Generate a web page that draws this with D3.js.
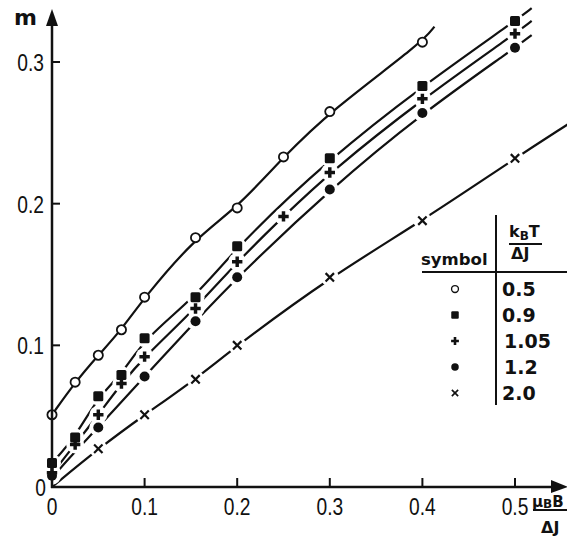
<!DOCTYPE html>
<html>
<head>
<meta charset="utf-8">
<script src="https://cdn.jsdelivr.net/npm/d3@7"></script>
<style>
  html, body { margin: 0; padding: 0; background: #fff; overflow: hidden; }
  .tick-label { font-family: "Liberation Sans", "DejaVu Sans", sans-serif; font-size: 24px; fill: #111; }
  .leg { font-family: "DejaVu Sans", sans-serif; font-weight: bold; fill: #111; }
</style>
</head>
<body>
<div id="chart"></div>
<script>
let w = 567
let h = 536

// k_B T / ΔJ values, one series per value
let kT = ["0.5", "0.9", "1.05", "1.2", "2.0"]
let symbolType = ["openCircle", "square", "plus", "dot", "cross"]

// measured points (x = μB·B/ΔJ, m)
let xOpen = [0, 0.025, 0.05, 0.075, 0.1, 0.155, 0.2, 0.25, 0.3, 0.4]
let mOpen = [0.051, 0.074, 0.093, 0.111, 0.134, 0.176, 0.197, 0.233, 0.265, 0.314]
let xSquare = [0, 0.025, 0.05, 0.075, 0.1, 0.155, 0.2, 0.3, 0.4, 0.5]
let mSquare = [0.017, 0.035, 0.064, 0.079, 0.105, 0.134, 0.170, 0.232, 0.283, 0.329]
let xPlus = [0, 0.025, 0.05, 0.075, 0.1, 0.155, 0.2, 0.25, 0.3, 0.4, 0.5]
let mPlus = [0.010, 0.030, 0.051, 0.073, 0.092, 0.126, 0.159, 0.191, 0.222, 0.274, 0.320]
let xDot = [0, 0.05, 0.1, 0.155, 0.2, 0.3, 0.4, 0.5]
let mDot = [0.008, 0.042, 0.078, 0.117, 0.148, 0.210, 0.264, 0.310]
let xCross = [0.05, 0.1, 0.155, 0.2, 0.3, 0.4, 0.5]
let mCross = [0.027, 0.051, 0.076, 0.100, 0.148, 0.188, 0.232]

// where the drawn curves begin / end beyond the measured points
let curveStart = [null, null, [0, 0.004], [0, 0.002], [0, 0]]
let curveEnd = [[0.413, 0.325], [0.518, 0.338], [0.518, 0.329], [0.518, 0.319], [0.557, 0.256]]

let xTicks = [0, 0.1, 0.2, 0.3, 0.4, 0.5]
let yTicks = [0, 0.1, 0.2, 0.3]

let series = [[xOpen, mOpen], [xSquare, mSquare], [xPlus, mPlus], [xDot, mDot], [xCross, mCross]]
	.map(([xs, ms], i) => ({
		kT: kT[i],
		type: symbolType[i],
		points: xs.map((v, j) => ({ x: v, m: ms[j] }))
	}))

let svg = d3.select("#chart")
	.append("svg")
	.attr("width", w)
	.attr("height", h)

let x = d3.scaleLinear().domain([0, 0.5]).range([52, 515])
let y = d3.scaleLinear().domain([0, 0.3]).range([487, 62])

// smoothed curves, like the hand-fitted lines of the original
let line = d3.line()
	.x(d => x(d[0]))
	.y(d => y(d[1]))
	.curve(d3.curveBasis)

// marker shapes
let drawMarker = (g, type, s) => {
	if (type == "openCircle") {
		g.append("circle").attr("r", 4.6 * s).attr("fill", "#fff").attr("stroke", "#111").attr("stroke-width", 1.8 * s)
	} else if (type == "square") {
		g.append("rect").attr("x", -5 * s).attr("y", -5 * s).attr("width", 10 * s).attr("height", 10 * s)
			.attr("rx", 1.5 * s).attr("fill", "#111")
	} else if (type == "plus") {
		g.append("path").attr("d", d3.symbol(d3.symbolCross, 60 * s * s)()).attr("fill", "#111")
	} else if (type == "dot") {
		g.append("circle").attr("r", 5 * s).attr("fill", "#111")
	} else {
		let r = 4.2 * s
		g.append("path").attr("d", `M${-r},${-r}L${r},${r}M${-r},${r}L${r},${-r}`)
			.attr("stroke", "#111").attr("stroke-width", 2.2 * s).attr("fill", "none")
	}
}

// curves
series.forEach((s, i) => {
	let knots = s.points.map(p => [p.x, p.m])
	if (curveStart[i]) knots.unshift(curveStart[i])
	knots.push(curveEnd[i])
	svg.append("path")
		.attr("d", line(knots))
		.attr("fill", "none")
		.attr("stroke", "#111")
		.attr("stroke-width", 2.2)
})

// white gaps round the filled markers
series.forEach(s => {
	if (s.type == "openCircle") return
	svg.append("g").selectAll("circle")
		.data(s.points)
		.join("circle")
		.attr("cx", d => x(d.x))
		.attr("cy", d => y(d.m))
		.attr("r", 9)
		.attr("fill", "#fff")
})

// markers
series.forEach(s => {
	svg.append("g").selectAll("g")
		.data(s.points)
		.join("g")
		.attr("transform", d => `translate(${x(d.x)},${y(d.m)})`)
		.each(function () { drawMarker(d3.select(this), s.type, 1) })
})

// axes
let axisG = svg.append("g").attr("stroke", "#111").attr("fill", "#111")
axisG.append("line")
	.attr("x1", x(0)).attr("x2", x(0))
	.attr("y1", y(0) + 1).attr("y2", 20)
	.attr("stroke-width", 2.5)
axisG.append("path")
	.attr("d", `M${x(0)},9L${x(0) + 6},26L${x(0) - 6},26Z`)
	.attr("stroke", "none")
axisG.append("line")
	.attr("x1", x(0) - 1).attr("x2", 560)
	.attr("y1", y(0)).attr("y2", y(0))
	.attr("stroke-width", 2.5)
axisG.append("path")
	.attr("d", `M568,${y(0)}L551,${y(0) - 7}L551,${y(0) + 6}Z`)
	.attr("stroke", "none")

svg.append("g").selectAll("line")
	.data(xTicks.filter(d => d > 0))
	.join("line")
	.attr("x1", d => x(d)).attr("x2", d => x(d))
	.attr("y1", y(0)).attr("y2", y(0) - 9)
	.attr("stroke", "#111").attr("stroke-width", 2)

svg.append("g").selectAll("line")
	.data(yTicks.filter(d => d > 0))
	.join("line")
	.attr("x1", x(0)).attr("x2", x(0) + 8)
	.attr("y1", d => y(d)).attr("y2", d => y(d))
	.attr("stroke", "#111").attr("stroke-width", 2)

let fmt = d => d == 0 ? "0" : d3.format(".1f")(d)

// tick labels: narrow digits, squeezed horizontally
svg.append("g").selectAll("text")
	.data(xTicks)
	.join("text")
	.attr("class", "tick-label")
	.attr("transform", d => `translate(${x(d)},515) scale(0.8,1)`)
	.attr("text-anchor", "middle")
	.text(fmt)

svg.append("g").selectAll("text")
	.data(yTicks)
	.join("text")
	.attr("class", "tick-label")
	.attr("transform", d => `translate(${d == 0 ? 46 : 44},${y(d) + 9}) scale(0.8,1)`)
	.attr("text-anchor", "end")
	.text(fmt)

// axis titles
svg.append("text")
	.attr("class", "leg")
	.attr("x", 14).attr("y", 25)
	.attr("font-size", 22)
	.text("m")

let xt = svg.append("text").attr("class", "leg").attr("font-size", 15).attr("x", 532).attr("y", 507)
xt.append("tspan").text("μ")
xt.append("tspan").attr("font-size", 12).attr("dy", 1).text("B")
xt.append("tspan").attr("dy", -1).text("B")
svg.append("line").attr("x1", 533).attr("x2", 567).attr("y1", 510).attr("y2", 510)
	.attr("stroke", "#111").attr("stroke-width", 2)
svg.append("text").attr("class", "leg").attr("font-size", 16).attr("x", 541).attr("y", 533).text("ΔJ")

// legend table
let leg = svg.append("g")
leg.append("line").attr("x1", 496).attr("x2", 496).attr("y1", 215).attr("y2", 405)
	.attr("stroke", "#111").attr("stroke-width", 2)
leg.append("line").attr("x1", 422).attr("x2", 567).attr("y1", 272).attr("y2", 272)
	.attr("stroke", "#111").attr("stroke-width", 2)
leg.append("text").attr("class", "leg").attr("font-size", 16.5).attr("x", 421).attr("y", 265).text("symbol")

let kt = leg.append("text").attr("class", "leg").attr("font-size", 16).attr("x", 509).attr("y", 237)
kt.append("tspan").text("k")
kt.append("tspan").attr("font-size", 12).attr("dy", 3).text("B")
kt.append("tspan").attr("dy", -3).text("T")
leg.append("line").attr("x1", 509).attr("x2", 542).attr("y1", 244).attr("y2", 244)
	.attr("stroke", "#111").attr("stroke-width", 2)
leg.append("text").attr("class", "leg").attr("font-size", 16).attr("x", 511).attr("y", 259).text("ΔJ")

let rowY = d3.scalePoint().domain(kT).range([289, 393])
let rows = leg.selectAll("g.row")
	.data(series)
	.join("g")
	.attr("class", "row")
rows.append("g")
	.attr("transform", d => `translate(455,${rowY(d.kT)})`)
	.each(function (d) { drawMarker(d3.select(this), d.type, 0.75) })
rows.append("text")
	.attr("class", "leg")
	.attr("font-size", 19)
	.attr("font-weight", 600)
	.attr("x", d => d.kT == "1.05" || d.kT == "1.2" ? 504 : 502)
	.attr("y", d => rowY(d.kT) + 7)
	.text(d => d.kT)
</script>
</body>
</html>
